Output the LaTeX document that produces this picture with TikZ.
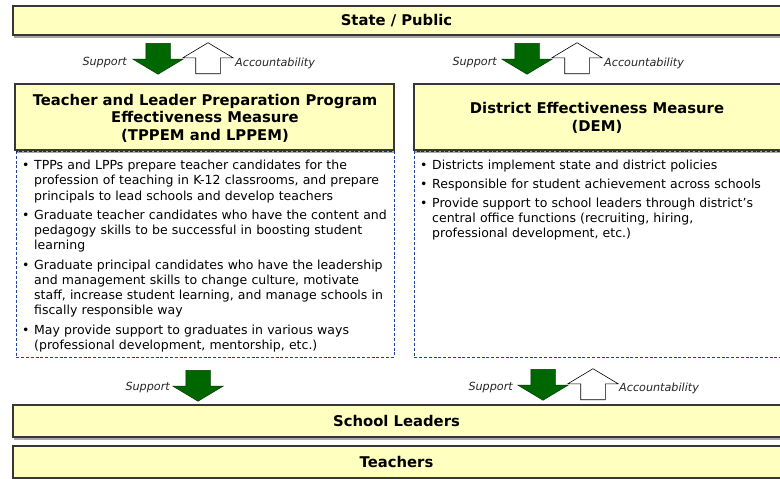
\documentclass[tikz,border=0pt]{standalone}
\usepackage{fontspec}
\setmainfont{DejaVu Sans}
\usetikzlibrary{shapes.arrows,shadows}
\definecolor{boxfill}{RGB}{255,255,192}
\definecolor{boxline}{RGB}{55,55,55}
\definecolor{arrowgreen}{RGB}{0,102,0}
\definecolor{arrowgreendark}{RGB}{0,60,0}
\definecolor{dashblue}{RGB}{35,65,170}
\newcommand{\bul}[1]{\makebox[12pt][l]{•}\parbox[t]{355pt}{#1}}
\begin{document}
\begin{tikzpicture}[x=1pt,y=-1pt,
  ybox/.style={draw=boxline, line width=1.1pt, fill=boxfill, inner sep=0pt, outer sep=0pt,
    anchor=north west, align=center,
    drop shadow={shadow xshift=0.6pt, shadow yshift=-3pt, fill=black, opacity=0.35}},
  dbox/.style={draw=dashblue, line width=0.9pt, dash pattern=on 3pt off 1.8pt},
  garrow/.style={single arrow, fill=arrowgreen, draw=arrowgreendark, line width=0.5pt,
    inner xsep=0pt, inner ysep=12pt, single arrow head extend=13pt,
    single arrow tip angle=118, minimum height=31pt, rotate=-90, anchor=tail},
  warrow/.style={single arrow, fill=white, draw=black, line width=0.6pt,
    inner xsep=0pt, inner ysep=12pt, single arrow head extend=13pt,
    single arrow tip angle=118, minimum height=31pt, rotate=90, anchor=tail},
  lbl/.style={inner sep=0pt, font=\fontsize{11.2}{13}\selectfont\itshape, text=black!85},
  titlefont/.style={font=\fontsize{14.8}{17.5}\selectfont\bfseries},
  listfont/.style={font=\fontsize{12.5}{15.3}\selectfont}
]
\useasboundingbox (0,0) rectangle (780,479);
\fill[white] (0,0) rectangle (780,479);

% top bar
\node[ybox, minimum width=770pt, minimum height=29pt, titlefont] (state) at (13,6) {};
\node[titlefont, inner sep=0pt] (statetxt) at (396.5,21) {State / Public};

% top arrows
\node[garrow] (ga1) at (158,43) {};
\node[warrow] (wa1) at (208,74) {};
\node[lbl, anchor=east] (s1) at (127,63) {Support};
\node[lbl, anchor=west] (a1) at (235,63) {Accountability};

\node[garrow] (ga2) at (527,43) {};
\node[warrow] (wa2) at (577,74) {};
\node[lbl, anchor=east] (s2) at (497,63) {Support};
\node[lbl, anchor=west] (a2) at (604,63) {Accountability};

% dashed boxes
\draw[dbox] (16,151) rectangle (394,357);
\draw[dbox] (414,151) rectangle (782,357);

% title boxes
\node[ybox, minimum width=379pt, minimum height=66pt] (tpp) at (15,84) {};
\node[titlefont, inner sep=0pt, align=center] (tpptxt) at (205,118)
  {Teacher and Leader Preparation Program\\Effectiveness Measure\\(TPPEM and LPPEM)};
\node[ybox, minimum width=370pt, minimum height=66pt] (dem) at (414,84) {};
\node[titlefont, inner sep=0pt, align=center] (demtxt) at (597,118)
  {District Effectiveness Measure\\(DEM)};

% lists
\node[listfont, anchor=north west, inner sep=0pt, text width=372pt] (llist) at (22,160) {%
\bul{TPPs and LPPs prepare teacher candidates for the\\profession of teaching in K-12 classrooms, and prepare\\principals to lead schools and develop teachers}\par\vspace{6pt}
\bul{Graduate teacher candidates who have the content and\\pedagogy skills to be successful in boosting student\\learning}\par\vspace{6pt}
\bul{Graduate principal candidates who have the leadership\\and management skills to change culture, motivate\\staff, increase student learning, and manage schools in\\fiscally responsible way}\par\vspace{6pt}
\bul{May provide support to graduates in various ways\\(professional development, mentorship, etc.)}};

\node[listfont, anchor=north west, inner sep=0pt, text width=362pt] (rlist) at (420,160) {%
\bul{Districts implement state and district policies}\par\vspace{3.5pt}
\bul{Responsible for student achievement across schools}\par\vspace{3.5pt}
\bul{Provide support to school leaders through district’s\\central office functions (recruiting, hiring,\\professional development, etc.)}};

% bottom arrows
\node[garrow] (ga3) at (198,370) {};
\node[lbl, anchor=east] (s3) at (170,388) {Support};
\node[garrow] (ga4) at (543,369) {};
\node[warrow] (wa4) at (593,400) {};
\node[lbl, anchor=east] (s4) at (513,388) {Support};
\node[lbl, anchor=west] (a4) at (619,388) {Accountability};

% bottom bars
\node[ybox, minimum width=770pt, minimum height=32pt] (sl) at (13,405) {};
\node[titlefont, inner sep=0pt] (sltxt) at (396.5,421) {School Leaders};
\node[ybox, minimum width=770pt, minimum height=32pt] (tch) at (13,446) {};
\node[titlefont, inner sep=0pt] (tchtxt) at (396.5,462) {Teachers};
\end{tikzpicture}
\end{document}
